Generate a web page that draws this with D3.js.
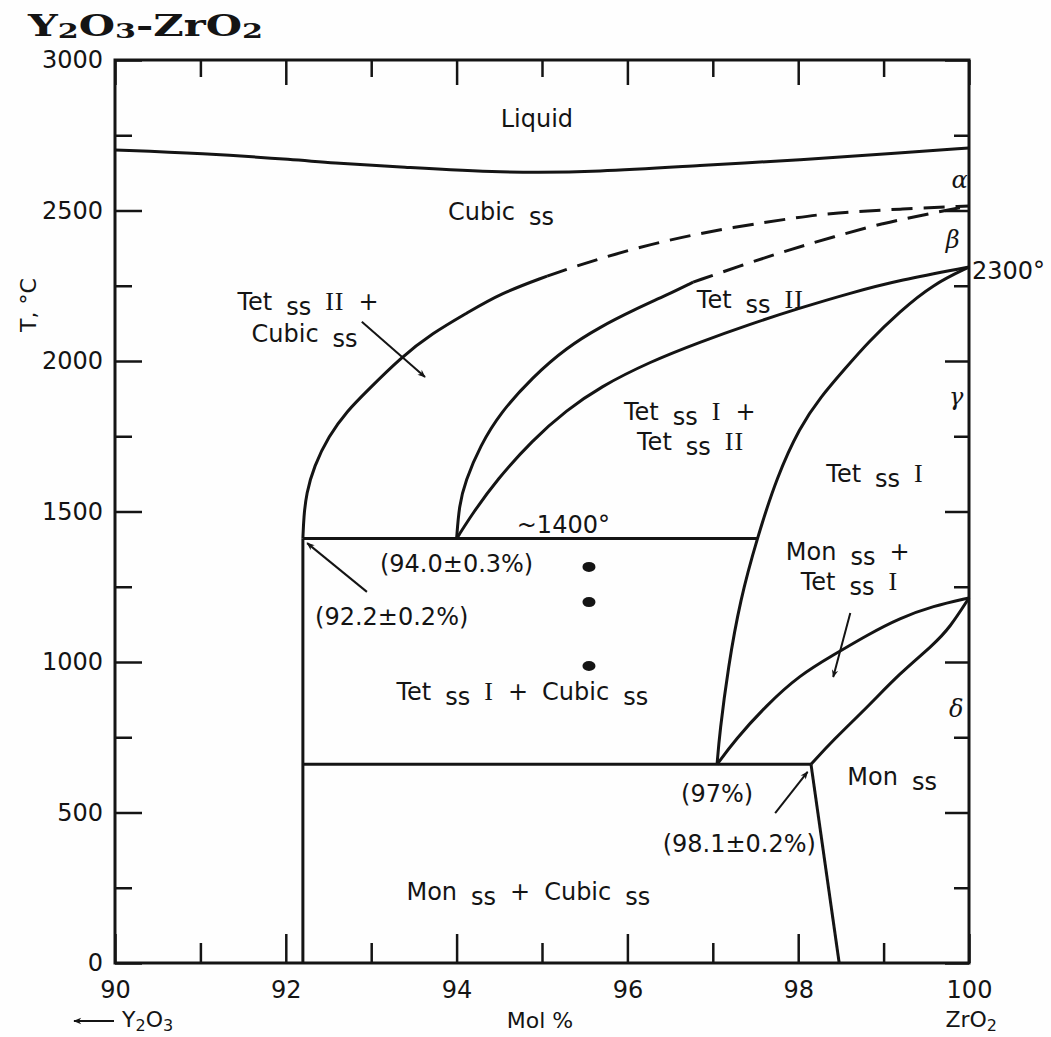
<!DOCTYPE html>
<html lang="en">
<head>
  <meta charset="UTF-8">
  <title>Y2O3-ZrO2 phase diagram</title>
  <script src="https://d3js.org/d3.v7.min.js"></script>
  <style>
    body { margin: 0; background: #fff; }
    svg { display: block; }
  </style>
</head>
<body>
  <svg width="1051" height="1037"></svg>

  <script>
    // ---- data (mol % ZrO2, temperature in °C) ----
    const xMajor = [90, 92, 94, 96, 98, 100];
    const xMinor = [91, 93, 95, 97, 99];
    const yMajor = [0, 500, 1000, 1500, 2000, 2500, 3000];
    const yMinor = [250, 750, 1250, 1750, 2250, 2750];

    const liquidus = [[90, 2701], [91, 2690], [92.16, 2668], [92.5, 2658], [93.34, 2645],
      [94.51, 2625], [95.68, 2628], [96.85, 2650], [98.02, 2668], [99.19, 2691], [100, 2708]];

    const cubicSolid = [[92.2, 1410], [92.21, 1480], [92.24, 1560], [92.33, 1650], [92.5, 1750],
      [92.72, 1835], [92.95, 1900], [93.34, 2010], [93.72, 2093], [94.12, 2159], [94.51, 2224], [95.06, 2282]];
    const cubicDashed = [[95.06, 2282], [95.68, 2342], [96.46, 2402], [97.24, 2445], [98.02, 2478],
      [98.41, 2492], [99.19, 2505], [100, 2515]];

    const tet2Solid = [[94.0, 1410], [94.03, 1520], [94.1, 1600], [94.28, 1720], [94.51, 1827],
      [94.89, 1947], [95.29, 2045], [95.68, 2113], [96.07, 2169], [96.46, 2219], [96.77, 2262]];
    const tet2Dashed = [[96.77, 2262], [97.35, 2319], [97.9, 2370], [98.41, 2412], [98.99, 2458],
      [99.58, 2492], [100, 2515]];

    const tet2Lower = [[94.0, 1410], [94.19, 1495], [94.47, 1605], [94.89, 1738], [95.29, 1837],
      [95.68, 1914], [96.26, 1997], [96.85, 2063], [97.44, 2123], [98.02, 2176], [98.61, 2226],
      [99.19, 2269], [100, 2312]];

    const tet1Bound = [[97.05, 660], [97.08, 764], [97.18, 983], [97.32, 1206], [97.52, 1412],
      [97.75, 1615], [98.02, 1781], [98.26, 1880], [98.55, 1975], [98.81, 2060], [99.19, 2165],
      [99.58, 2255], [100, 2312]];

    const monTetUpper = [[97.05, 660], [97.26, 741], [97.63, 857], [98.02, 957], [98.41, 1023],
      [98.81, 1090], [99.19, 1146], [99.58, 1186], [100, 1213]];

    const monBound = [[98.15, 660], [98.41, 741], [98.81, 850], [99.19, 963], [99.58, 1056],
      [99.78, 1116], [100, 1213]];

    const monLower = [[98.15, 660], [98.48, 0]];
    const iso1400 = [[92.2, 1410], [97.52, 1410]];
    const iso660 = [[92.2, 660], [98.15, 660]];
    const cubicVertical = [[92.2, 0], [92.2, 1410]];

    const samplePoints = [[95.55, 1316], [95.55, 1199], [95.55, 987]];

    const arrows = [
      [[92.89, 2130], [93.63, 1947]],
      [[92.95, 1233], [92.25, 1395]],
      [[98.61, 1163], [98.41, 950]],
      [[97.73, 498], [98.11, 635]]
    ];

    // label segments: n = normal, s = subscript "ss", r = roman numeral
    const labels = [
      { x: 94.94, t: 2777, segs: [["Liquid"]] },
      { x: 94.52, t: 2468, segs: [["Cubic"], ["ss", "s"]] },
      { x: 92.26, t: 2168, segs: [["Tet"], ["ss", "s"], ["II", "r"], ["+"]] },
      { x: 92.22, t: 2063, segs: [["Cubic"], ["ss", "s"]] },
      { x: 97.44, t: 2176, segs: [["Tet"], ["ss", "s"], ["II", "r"]] },
      { x: 96.73, t: 1804, segs: [["Tet"], ["ss", "s"], ["I", "r"], ["+"]] },
      { x: 96.74, t: 1704, segs: [["Tet"], ["ss", "s"], ["II", "r"]] },
      { x: 98.9, t: 1598, segs: [["Tet"], ["ss", "s"], ["I", "r"]] },
      { x: 98.58, t: 1339, segs: [["Mon"], ["ss", "s"], ["+"]] },
      { x: 98.6, t: 1239, segs: [["Tet"], ["ss", "s"], ["I", "r"]] },
      { x: 95.25, t: 1429, segs: [["~1400°"]] },
      { x: 94.0, t: 1299, segs: [["(94.0±0.3%)"]] },
      { x: 93.24, t: 1123, segs: [["(92.2±0.2%)"]] },
      { x: 94.77, t: 874, segs: [["Tet"], ["ss", "s"], ["I", "r"], ["+"], ["Cubic"], ["ss", "s"]] },
      { x: 94.84, t: 209, segs: [["Mon"], ["ss", "s"], ["+"], ["Cubic"], ["ss", "s"]] },
      { x: 97.05, t: 535, segs: [["(97%)"]] },
      { x: 97.31, t: 369, segs: [["(98.1±0.2%)"]] },
      { x: 99.1, t: 591, segs: [["Mon"], ["ss", "s"]] }
    ];

    const greek = [["α", 99.89, 2575], ["β", 99.81, 2375], ["γ", 99.85, 1854], ["δ", 99.85, 817]];

    // ---- layout ----
    const svg = d3.select("svg");
    svg.append("rect").attr("width", 1051).attr("height", 1037).attr("fill", "#fefefe");

    const mLeft = 115, mRight = 969, mTop = 60, mBottom = 963;
    const x = d3.scaleLinear().domain([90, 100]).range([mLeft, mRight]);
    const y = d3.scaleLinear().domain([0, 3000]).range([mBottom, mTop]);
    const ink = "#141414";
    const sans = "DejaVu Sans";
    const serif = "Liberation Serif";

    // axes (ticks point inward)
    function axisGroup(axis, tx, ty, labelled) {
      const g = svg.append("g").attr("transform", `translate(${tx},${ty})`).call(axis);
      g.select(".domain").remove();
      g.selectAll("line").attr("stroke", ink).attr("stroke-width", 2.5);
      g.selectAll("text").attr("fill", ink).attr("font-family", sans).attr("font-size", 24);
      if (!labelled) g.selectAll("text").remove();
      return g;
    }
    axisGroup(d3.axisBottom(x).tickValues(xMajor).tickSize(-29).tickPadding(18).tickFormat(d3.format("d")), 0, mBottom, true);
    axisGroup(d3.axisBottom(x).tickValues(xMinor).tickSize(-20), 0, mBottom, false);
    axisGroup(d3.axisTop(x).tickValues(xMajor).tickSize(-25), 0, mTop, false);
    axisGroup(d3.axisTop(x).tickValues(xMinor).tickSize(-17), 0, mTop, false);
    axisGroup(d3.axisLeft(y).tickValues(yMajor).tickSize(-27).tickPadding(12).tickFormat(d3.format("d")), mLeft, 0, true);
    axisGroup(d3.axisLeft(y).tickValues(yMinor).tickSize(-17), mLeft, 0, false);
    axisGroup(d3.axisRight(y).tickValues(yMajor).tickSize(-24), mRight, 0, false);
    axisGroup(d3.axisRight(y).tickValues(yMinor).tickSize(-15), mRight, 0, false);

    svg.append("rect")
      .attr("x", mLeft).attr("y", mTop)
      .attr("width", mRight - mLeft).attr("height", mBottom - mTop)
      .attr("fill", "none").attr("stroke", ink).attr("stroke-width", 3);

    // phase boundaries
    const line = d3.line().x(d => x(d[0])).y(d => y(d[1])).curve(d3.curveBasis);
    const solid = [liquidus, cubicSolid, tet2Solid, tet2Lower, tet1Bound, monTetUpper, monBound,
      monLower, iso1400, iso660, cubicVertical];
    svg.append("g").selectAll("path").data(solid).join("path")
      .attr("d", line).attr("fill", "none").attr("stroke", ink)
      .attr("stroke-width", 3).attr("stroke-linejoin", "round");
    svg.append("g").selectAll("path").data([cubicDashed, tet2Dashed]).join("path")
      .attr("d", line).attr("fill", "none").attr("stroke", ink)
      .attr("stroke-width", 3).attr("stroke-dasharray", "21,11");

    // experimental points
    svg.append("g").selectAll("ellipse").data(samplePoints).join("ellipse")
      .attr("cx", d => x(d[0])).attr("cy", d => y(d[1]))
      .attr("rx", 6.5).attr("ry", 5).attr("fill", ink);

    // arrows
    svg.append("defs").append("marker")
      .attr("id", "head").attr("viewBox", "0 0 10 10")
      .attr("refX", 9).attr("refY", 5)
      .attr("markerWidth", 16).attr("markerHeight", 8)
      .attr("markerUnits", "userSpaceOnUse").attr("orient", "auto")
      .append("path").attr("d", "M0,1 L10,5 L0,9 L3,5 Z").attr("fill", ink);
    svg.append("g").selectAll("line").data(arrows).join("line")
      .attr("x1", d => x(d[0][0])).attr("y1", d => y(d[0][1]))
      .attr("x2", d => x(d[1][0])).attr("y2", d => y(d[1][1]))
      .attr("stroke", ink).attr("stroke-width", 2).attr("marker-end", "url(#head)");

    // region labels
    labels.forEach(lab => {
      const text = svg.append("text")
        .attr("x", x(lab.x)).attr("y", y(lab.t))
        .attr("text-anchor", "middle")
        .attr("font-family", sans).attr("font-size", 24).attr("fill", ink);
      let prevSub = false;
      lab.segs.forEach((s, i) => {
        const kind = s[1] || "n";
        const ts = text.append("tspan").text(s[0]);
        let dy = 0;
        if (kind === "s" && !prevSub) dy = 5;
        if (kind !== "s" && prevSub) dy = -5;
        ts.attr("dy", dy).attr("dx", i === 0 ? 0 : 14);
        if (kind === "r") ts.attr("font-family", serif).attr("font-size", 26).attr("letter-spacing", 1);
        prevSub = kind === "s";
      });
    });

    svg.append("g").selectAll("text").data(greek).join("text")
      .attr("x", d => x(d[1])).attr("y", d => y(d[2]))
      .attr("text-anchor", "middle")
      .attr("font-family", "DejaVu Serif").attr("font-style", "italic")
      .attr("font-size", 24).attr("fill", ink)
      .text(d => d[0]);

    svg.append("text")
      .attr("x", x(100) + 3).attr("y", y(2272))
      .attr("font-family", sans).attr("font-size", 24).attr("fill", ink)
      .text("2300°");

    // title
    const title = svg.append("text")
      .attr("x", 28).attr("y", 36)
      .attr("font-family", "DejaVu Serif").attr("font-weight", "bold")
      .attr("fill", ink)
      .attr("textLength", 235).attr("lengthAdjust", "spacingAndGlyphs");
    [["Y", 0], ["2", 1], ["O", 0], ["3", 1], ["-", 0], ["Z", 0], ["r", 0], ["O", 0], ["2", 1]]
      .reduce((prev, [t, sub]) => {
        title.append("tspan").text(t)
          .attr("font-size", sub ? 21 : 29)
          .attr("dy", sub === prev ? 0 : (sub ? 2 : -2));
        return sub;
      }, 0);

    // axis titles
    svg.append("text")
      .attr("transform", "translate(36,305) rotate(-90)")
      .attr("text-anchor", "middle")
      .attr("font-family", sans).attr("font-size", 22).attr("fill", ink)
      .text("T, °C");

    svg.append("text")
      .attr("x", 540).attr("y", 1028).attr("text-anchor", "middle")
      .attr("font-family", sans).attr("font-size", 22).attr("fill", ink)
      .text("Mol %");

    svg.append("line")
      .attr("x1", 114).attr("y1", 1021).attr("x2", 74).attr("y2", 1021)
      .attr("stroke", ink).attr("stroke-width", 2).attr("marker-end", "url(#head)");

    function formula(parts, xPos, anchor) {
      const t = svg.append("text")
        .attr("x", xPos).attr("y", 1027).attr("text-anchor", anchor)
        .attr("font-family", sans).attr("font-size", 22).attr("fill", ink);
      let prev = 0;
      parts.forEach(([s, sub]) => {
        t.append("tspan").text(s)
          .attr("font-size", sub ? 16 : 22)
          .attr("dy", sub === prev ? 0 : (sub ? 4 : -4));
        prev = sub;
      });
    }
    formula([["Y", 0], ["2", 1], ["O", 0], ["3", 1]], 122, "start");
    formula([["ZrO", 0], ["2", 1]], 997, "end");
  </script>
</body>
</html>
